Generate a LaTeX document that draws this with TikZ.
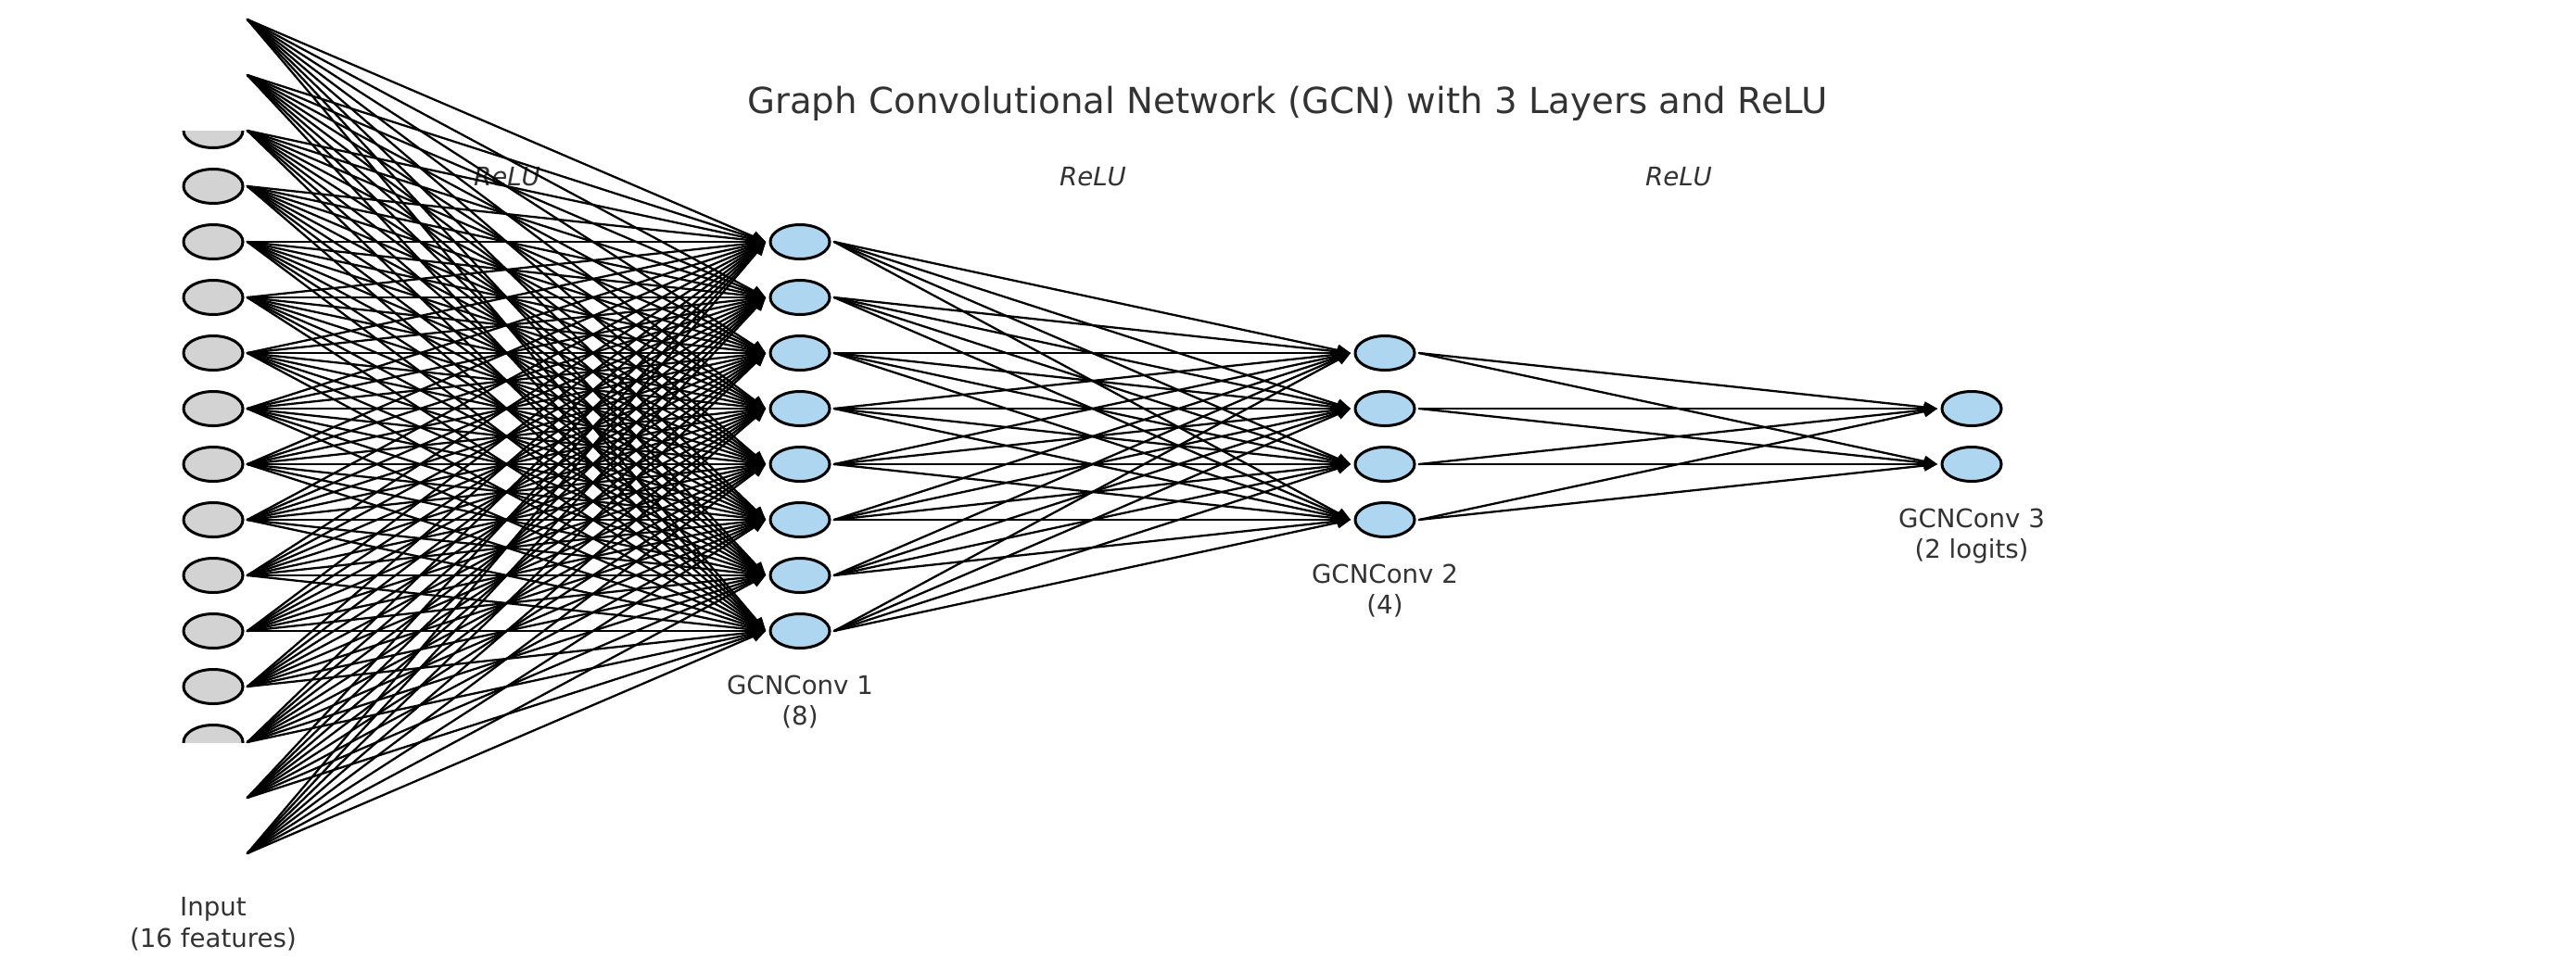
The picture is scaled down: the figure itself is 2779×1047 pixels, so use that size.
\documentclass[tikz,border=0pt]{standalone}
\usepackage{fontspec}
\setmainfont{DejaVu Sans}
\usepackage{tikz}
\usetikzlibrary{arrows.meta,positioning,shapes.geometric}

\definecolor{txtgray}{RGB}{51,51,51}
\definecolor{nodeblue}{RGB}{174,214,241}
\definecolor{nodegray}{RGB}{211,211,211}

\begin{document}
\begin{tikzpicture}[line cap=round,line join=round,x=0.014624cm,y=-0.014624cm,
        >={Triangle[length=6pt,width=5pt]},
        neuron/.style={ellipse,draw=black,line width=1.25pt,minimum width=0.936cm,minimum height=0.541cm,inner sep=0pt,outer sep=2pt},
        innode/.style={neuron,fill=nodegray},
        hidnode/.style={neuron,fill=nodeblue},
        conn/.style={->,line width=0.95pt},
        lbl/.style={text=txtgray,font=\fontsize{11.5}{14}\selectfont,align=center,inner sep=0pt},
        act/.style={text=txtgray,font=\fontsize{11.5}{14}\selectfont\itshape}]
        \useasboundingbox (0,0) rectangle (2779,1047);
        % title and activations
        \node[text=txtgray,font=\fontsize{16.1}{19}\selectfont] (title) at (1389,112) {Graph Convolutional Network (GCN) with 3 Layers and ReLU};
        \node[act] (relu1) at (547,191) {ReLU};
        \node[act] (relu2) at (1179,191) {ReLU};
        \node[act] (relu3) at (1811,191) {ReLU};
        % input layer, cut by the axes
        \begin{scope}
            \clip (0,141) rectangle (2779,801);
            \foreach \i in {0,...,15}
                \node[innode] (in\i) at (230,{471+(\i-7.5)*60}) {};
        \end{scope}
        % GCN layers
        \foreach \i in {0,...,7}
            \node[hidnode] (ha\i) at (863,{471+(\i-3.5)*60}) {};
        \foreach \i in {0,...,3}
            \node[hidnode] (hb\i) at (1494,{471+(\i-1.5)*60}) {};
        \foreach \i in {0,1}
            \node[hidnode] (out\i) at (2127,{471+(\i-0.5)*60}) {};
        % connections
        \foreach \i in {0,...,15}
            \foreach \j in {0,...,7}
                \draw[conn] (in\i.east) -- (ha\j.west);
        \foreach \i in {0,...,7}
            \foreach \j in {0,...,3}
                \draw[conn] (ha\i.east) -- (hb\j.west);
        \foreach \i in {0,...,3}
            \foreach \j in {0,1}
                \draw[conn] (hb\i.east) -- (out\j.west);
        % layer labels
        \node[lbl,below=0.35cm of in15] (inlbl) {Input\\(16 features)};
        \node[lbl,below=0.35cm of ha7] (halbl) {GCNConv 1\\(8)};
        \node[lbl,below=0.35cm of hb3] (hblbl) {GCNConv 2\\(4)};
        \node[lbl,below=0.35cm of out1] (outlbl) {GCNConv 3\\(2 logits)};
\end{tikzpicture}
\end{document}
